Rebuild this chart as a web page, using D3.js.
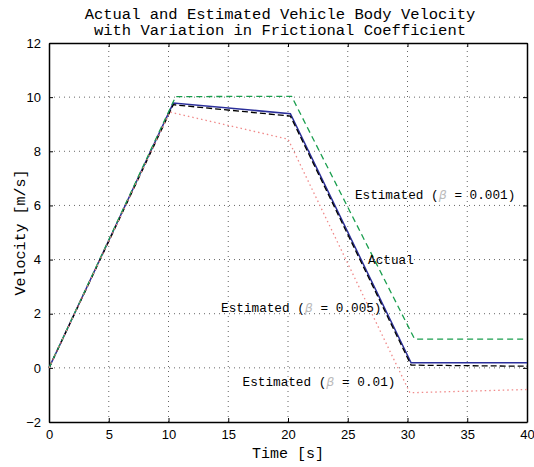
<!DOCTYPE html>
<html>
<head>
<meta charset="utf-8">
<script src="https://cdn.jsdelivr.net/npm/d3@7"></script>
<style>
body { margin: 0; background: #fff; }
.mono { font-family: "Liberation Mono", "DejaVu Sans Mono", monospace; }
.tick text { font-family: "Liberation Sans", Arial, sans-serif; font-size: 13px; fill: #000; }
</style>
</head>
<body>
<div id="chart"></div>
<script>
// time [s] and velocity [m/s] per curve
var actualT = [0, 10.4, 20.2, 30.3, 40]
var actualV = [0, 9.78, 9.39, 0.19, 0.19]
var est001T = [0, 10.6, 20.3, 30.6, 40]
var est001V = [0, 10.02, 10.03, 1.06, 1.06]
var est005T = [0, 10.4, 20.2, 30.3, 40]
var est005V = [0, 9.72, 9.30, 0.10, 0.06]
var est01T = [0, 10.1, 20.0, 30.2, 40]
var est01V = [0, 9.45, 8.45, -0.92, -0.80]

var xTicks = [0, 5, 10, 15, 20, 25, 30, 35, 40]
var yTicks = [-2, 0, 2, 4, 6, 8, 10, 12]

// annotation text and anchor (t, v)
var labels = [
	{pre: 'Estimated (', beta: true, post: ' = 0.001)', t: 25.6, v: 6.23},
	{pre: 'Actual', beta: false, post: '', t: 26.7, v: 3.83},
	{pre: 'Estimated (', beta: true, post: ' = 0.005)', t: 14.4, v: 2.05},
	{pre: 'Estimated (', beta: true, post: ' = 0.01)', t: 16.2, v: -0.68}
]

var width = 534
var height = 467
var margin = {left: 49, right: 7, top: 43, bottom: 45}

var svg = d3.select('#chart')
	.append('svg')
		.attr('width', width)
		.attr('height', height)

var x = d3.scaleLinear().domain([0, 40]).range([margin.left, width - margin.right])
var y = d3.scaleLinear().domain([-2, 12]).range([height - margin.bottom, margin.top])

// grid
svg.append('g').selectAll('line')
	.data(xTicks.slice(1, -1))
	.enter().append('line')
		.attr('x1', d => x(d)).attr('x2', d => x(d))
		.attr('y1', y(-2)).attr('y2', y(12))
		.attr('stroke', '#666').attr('stroke-width', 1)
		.attr('stroke-dasharray', '1,4')
svg.append('g').selectAll('line')
	.data(yTicks.slice(1, -1))
	.enter().append('line')
		.attr('y1', d => y(d)).attr('y2', d => y(d))
		.attr('x1', x(0)).attr('x2', x(40))
		.attr('stroke', '#666').attr('stroke-width', 1)
		.attr('stroke-dasharray', '1,4')

// axes, ticks pointing inward
svg.append('g')
	.attr('transform', 'translate(0,' + y(-2) + ')')
	.call(d3.axisBottom(x).tickValues(xTicks).tickSizeInner(-4).tickSizeOuter(0).tickPadding(8))
svg.append('g')
	.attr('transform', 'translate(0,' + y(12) + ')')
	.call(d3.axisTop(x).tickValues(xTicks).tickSizeInner(-4).tickSizeOuter(0).tickFormat(''))
svg.append('g')
	.attr('transform', 'translate(' + x(0) + ',0)')
	.call(d3.axisLeft(y).tickValues(yTicks).tickSizeInner(-4).tickSizeOuter(0).tickPadding(8))
svg.append('g')
	.attr('transform', 'translate(' + x(40) + ',0)')
	.call(d3.axisRight(y).tickValues(yTicks).tickSizeInner(-4).tickSizeOuter(0).tickFormat(''))
svg.selectAll('.domain').attr('stroke', '#000').attr('stroke-width', 1.5)

// curves
var line = d3.line().x(d => x(d[0])).y(d => y(d[1]))
function pts(t, v) { return t.map((d, i) => [d, v[i]]) }

svg.append('path').datum(pts(actualT, actualV))
	.attr('d', line).attr('fill', 'none')
	.attr('stroke', '#2b2f9a').attr('stroke-width', 1.5)
svg.append('path').datum(pts(est005T, est005V))
	.attr('d', line).attr('fill', 'none')
	.attr('stroke', '#000').attr('stroke-width', 1.3)
	.attr('stroke-dasharray', '6,3')
svg.append('path').datum(pts(est001T, est001V))
	.attr('d', line).attr('fill', 'none')
	.attr('stroke', '#1a9e4e').attr('stroke-width', 1.3)
	.attr('stroke-dasharray', '6,4')
svg.append('path').datum(pts(est01T, est01V))
	.attr('d', line).attr('fill', 'none')
	.attr('stroke', '#f08a8a').attr('stroke-width', 1.3)
	.attr('stroke-dasharray', '1.5,3')

// annotations
var ann = svg.append('g').selectAll('text')
	.data(labels)
	.enter().append('text')
		.attr('class', 'mono')
		.attr('x', d => x(d.t))
		.attr('y', d => y(d.v))
		.style('font-size', '12.7px')
ann.append('tspan').text(d => d.pre)
ann.filter(d => d.beta).append('tspan')
	.text('β')
	.attr('fill', '#bbb')
	.style('font-style', 'italic')
	.style('font-family', '"DejaVu Sans", sans-serif')
ann.append('tspan').text(d => d.post)

// titles
svg.append('text').attr('class', 'mono')
	.attr('x', 280).attr('y', 19)
	.attr('text-anchor', 'middle')
	.style('font-size', '15.5px')
	.text('Actual and Estimated Vehicle Body Velocity')
svg.append('text').attr('class', 'mono')
	.attr('x', 280).attr('y', 35)
	.attr('text-anchor', 'middle')
	.style('font-size', '15.5px')
	.text('with Variation in Frictional Coefficient')

svg.append('text').attr('class', 'mono')
	.attr('x', x(20)).attr('y', 458)
	.attr('text-anchor', 'middle')
	.style('font-size', '15px')
	.text('Time [s]')
svg.append('text').attr('class', 'mono')
	.attr('transform', 'translate(25,' + y(5) + ') rotate(-90)')
	.attr('text-anchor', 'middle')
	.style('font-size', '15px')
	.text('Velocity [m/s]')
</script>
</body>
</html>
